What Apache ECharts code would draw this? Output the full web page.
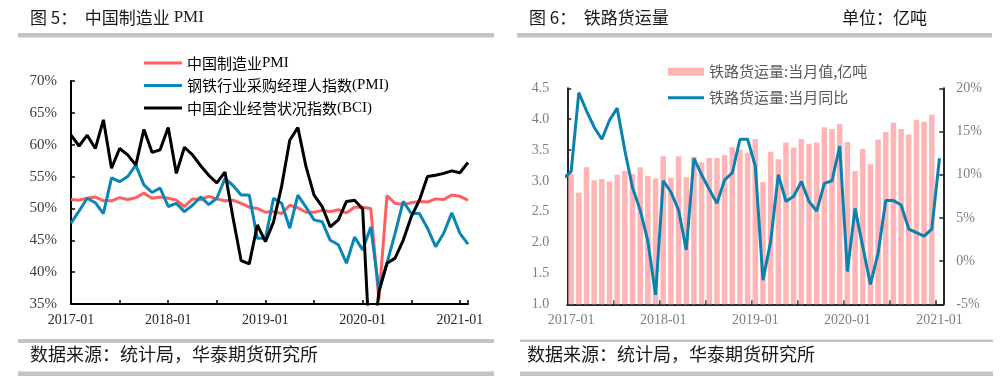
<!DOCTYPE html>
<html>
<head>
<meta charset="utf-8">
<script src="https://cdn.jsdelivr.net/npm/echarts@6/dist/echarts.min.js"></script>
<style>
html,body{margin:0;padding:0;background:#fff;}
#c{width:1008px;height:385px;}
</style>
</head>
<body>
<div id="c"></div>
<script>
// ---------- Left chart: monthly series, month-end points 2016-12 .. 2021-01 ----------
const pmiTickLabels = ['2017-01', '2018-01', '2019-01', '2020-01', '2021-01'];
const seriesNamesLeft = ['中国制造业PMI', '钢铁行业采购经理人指数(PMI)', '中国企业经营状况指数(BCI)'];
const pmiMfg = [51.4,
  51.3, 51.6, 51.8, 51.2, 51.2, 51.7, 51.4, 51.7, 52.4, 51.6, 51.8, 51.6,
  51.3, 50.3, 51.5, 51.4, 51.9, 51.5, 51.2, 51.3, 50.8, 50.2, 50.0, 49.4,
  49.5, 49.2, 50.5, 50.1, 49.4, 49.4, 49.7, 49.5, 49.8, 49.3, 50.2, 50.2,
  50.0, 35.7, 52.0, 50.8, 50.6, 50.9, 51.1, 51.0, 51.5, 51.4, 52.1, 51.9,
  51.3];
const pmiSteel = [47.7,
  49.6, 51.6, 50.9, 49.2, 54.8, 54.2, 55.0, 56.8, 53.7, 52.5, 53.2, 50.3,
  50.8, 49.5, 50.5, 51.8, 50.6, 51.6, 54.7, 53.6, 52.1, 52.1, 45.3, 45.3,
  51.6, 50.8, 46.9, 52.1, 50.2, 48.2, 47.9, 45.0, 44.3, 41.4, 45.5, 43.5,
  47.1, 37.2, 41.4, 46.1, 51.1, 49.2, 49.2, 46.9, 44.0, 46.1, 49.3, 46.1,
  44.4];
const bci = [61.5,
  59.8, 61.5, 59.4, 63.9, 56.3, 59.4, 58.4, 56.8, 62.4, 58.8, 59.2, 62.7,
  55.5, 59.6, 58.4, 56.7, 55.2, 54.0, 55.7, 48.5, 41.8, 41.3, 47.4, 44.8,
  47.9, 53.5, 60.7, 62.7, 56.6, 52.1, 50.3, 47.1, 48.2, 51.1, 51.3, 49.9,
  25.0, 36.9, 41.4, 42.2, 45.0, 48.7, 51.3, 55.0, 55.2, 55.5, 55.9, 55.6,
  57.2];

// ---------- Right chart: rail freight ----------
const railMonths = [
  '2017-01','2017-02','2017-03','2017-04','2017-05','2017-06','2017-07','2017-08','2017-09','2017-10','2017-11','2017-12',
  '2018-01','2018-02','2018-03','2018-04','2018-05','2018-06','2018-07','2018-08','2018-09','2018-10','2018-11','2018-12',
  '2019-01','2019-02','2019-03','2019-04','2019-05','2019-06','2019-07','2019-08','2019-09','2019-10','2019-11','2019-12',
  '2020-01','2020-02','2020-03','2020-04','2020-05','2020-06','2020-07','2020-08','2020-09','2020-10','2020-11','2020-12',
  '2021-01'];
const seriesNamesRight = ['铁路货运量:当月值,亿吨', '铁路货运量:当月同比'];
const railVolume = [
  3.11, 2.81, 3.22, 3.01, 3.03, 2.99, 3.10, 3.16, 3.11, 3.22, 3.08, 3.04,
  3.40, 3.05, 3.40, 3.06, 3.39, 3.30, 3.37, 3.37, 3.42, 3.55, 3.51, 3.46,
  3.68, 2.98, 3.47, 3.35, 3.62, 3.54, 3.68, 3.60, 3.62, 3.87, 3.84, 3.92,
  3.63, 3.16, 3.52, 3.27, 3.67, 3.79, 3.94, 3.84, 3.75, 3.99, 3.96, 4.07];
const railYoyPrev = 9.6; // 2016-12, only its clipped segment is visible
const railYoy = [
  10.35, 19.5, 17.4, 15.5, 14.1, 16.3, 17.7, 12.8, 8.5, 5.9, 2.3, -3.9,
  9.3, 8.0, 5.9, 1.3, 11.9, 10.0, 8.3, 6.7, 9.4, 10.2, 14.1, 14.1,
  11.0, -2.2, 2.25, 10.0, 6.9, 7.5, 9.2, 6.9, 5.8, 9.0, 9.3, 13.3,
  -1.2, 6.1, 1.7, -2.7, 0.9, 7.0, 7.0, 6.5, 3.7, 3.3, 2.9, 3.7,
  11.9];

// ---------- helpers ----------
const SERIF = 'Liberation Serif';
const CJK = 'Noto Sans CJK SC';
function richName(name) { return name.replace(/([A-Za-z()]+)/g, '{en|$1}'); }

const leftColors = ['#FF5F5F', '#0A86B4', '#000000'];
const leftData = [pmiMfg, pmiSteel, bci];

const chart = echarts.init(document.getElementById('c'), null, {renderer: 'canvas'});

const option = {
  animation: false,
  backgroundColor: '#ffffff',
  grid: [
    {left: 71, top: 81, width: 397, height: 223, containLabel: false},
    {left: 567.3, top: 88.3, width: 376, height: 216, containLabel: false}
  ],
  xAxis: [
    {
      type: 'value', gridIndex: 0, min: 0, max: 49, interval: 6,
      axisLine: {onZero: false, lineStyle: {color: '#000', width: 2}},
      axisTick: {show: true, inside: true, length: 4, lineStyle: {color: '#000', width: 1.5}},
      splitLine: {show: false},
      axisLabel: {
        margin: 9, fontFamily: SERIF, fontSize: 14, color: '#262626',
        formatter: v => (v % 12 === 0 ? pmiTickLabels[v / 12] : '')
      }
    },
    {
      type: 'category', gridIndex: 1, data: railMonths, boundaryGap: true,
      axisLine: {onZero: false, lineStyle: {color: '#262626', width: 2}},
      axisTick: {show: true, inside: true, length: 4, interval: 5, alignWithLabel: false, lineStyle: {color: '#262626', width: 1.5}},
      axisLabel: {interval: 11, margin: 9, fontFamily: SERIF, fontSize: 14, color: '#7F7F7F'},
      splitLine: {show: false}
    },
    {
      type: 'value', gridIndex: 1, min: 0, max: 49, show: false,
      axisLine: {show: false, onZero: false}, axisTick: {show: false}, axisLabel: {show: false}, splitLine: {show: false}
    }
  ],
  yAxis: [
    {
      type: 'value', gridIndex: 0, min: 35, max: 70, interval: 5,
      axisLine: {show: true, onZero: false, lineStyle: {color: '#000', width: 2}},
      axisTick: {show: true, inside: true, length: 4, lineStyle: {color: '#000', width: 1.5}},
      splitLine: {show: false},
      axisLabel: {margin: 14, fontFamily: SERIF, fontSize: 15, color: '#3a3a46', formatter: '{value}%'}
    },
    {
      type: 'value', gridIndex: 1, min: 1, max: 4.5, interval: 0.5, position: 'left',
      axisLine: {show: true, onZero: false, lineStyle: {color: '#262626', width: 2}},
      axisTick: {show: true, inside: true, length: 4, lineStyle: {color: '#262626', width: 1.5}},
      splitLine: {show: false},
      axisLabel: {margin: 18, fontFamily: SERIF, fontSize: 14, color: '#7F7F7F', formatter: v => v.toFixed(1)}
    },
    {
      type: 'value', gridIndex: 1, min: -5, max: 20, interval: 5, position: 'right',
      axisLine: {show: true, onZero: false, lineStyle: {color: '#262626', width: 2}},
      axisTick: {show: true, inside: true, length: 4, lineStyle: {color: '#262626', width: 1.5}},
      splitLine: {show: false},
      axisLabel: {margin: 13, fontFamily: SERIF, fontSize: 14, color: '#7F7F7F', formatter: '{value}%'}
    }
  ],
  legend: [
    {
      data: seriesNamesLeft, orient: 'vertical', left: 139, top: 49,
      icon: 'rect', itemWidth: 38, itemHeight: 3, itemGap: 4.5,
      formatter: richName,
      textStyle: {fontFamily: CJK, fontSize: 15, color: '#000', lineHeight: 18,
        rich: {en: {fontFamily: SERIF, fontSize: 15, color: '#000', lineHeight: 18}}}
    },
    {
      data: [seriesNamesRight[0]], orient: 'vertical', left: 663, top: 57.7,
      icon: 'rect', itemWidth: 36, itemHeight: 8,
      textStyle: {fontFamily: CJK, fontSize: 15, color: '#595959', lineHeight: 18}
    },
    {
      data: [seriesNamesRight[1]], orient: 'vertical', left: 663, top: 83.7,
      icon: 'rect', itemWidth: 36, itemHeight: 3,
      textStyle: {fontFamily: CJK, fontSize: 15, color: '#595959', lineHeight: 18}
    }
  ],
  series: [
    ...leftData.map((arr, s) => ({
      name: seriesNamesLeft[s], type: 'line', xAxisIndex: 0, yAxisIndex: 0,
      data: arr.map((v, i) => [i, v]),
      showSymbol: false, symbol: 'none', clip: true,
      color: leftColors[s],
      itemStyle: {color: leftColors[s]},
      lineStyle: {color: leftColors[s], width: 3},
      z: 2 + s
    })),
    {
      name: seriesNamesRight[0], type: 'bar', xAxisIndex: 1, yAxisIndex: 1,
      data: railVolume, barCategoryGap: '28%',
      itemStyle: {color: '#FFB5B5'}, color: '#FFB5B5'
    },
    {
      name: seriesNamesRight[1], type: 'line', xAxisIndex: 2, yAxisIndex: 2,
      data: [[-0.5, railYoyPrev]].concat(railYoy.map((v, k) => [k + 0.5, v])),
      showSymbol: false, symbol: 'none', clip: true,
      color: '#0A82B0', itemStyle: {color: '#0A82B0'},
      lineStyle: {color: '#0A82B0', width: 3}, z: 5
    }
  ],
  graphic: [
    // headers
    {type: 'text', left: 30, top: 9, style: {text: '图 5：  中国制造业 {en|PMI}', font: '17px "Noto Sans CJK SC"', fill: '#1a1a1a',
      rich: {en: {fontFamily: SERIF, fontSize: 17, fill: '#1a1a1a'}}}},
    {type: 'rect', shape: {x: 18, y: 33, width: 476, height: 4.5}, style: {fill: '#C3C3C3'}},
    {type: 'text', left: 529, top: 9, style: {text: '图 6：  铁路货运量', font: '17px "Noto Sans CJK SC"', fill: '#1a1a1a'}},
    {type: 'text', left: 842, top: 9, style: {text: '单位：亿吨', font: '17px "Noto Sans CJK SC"', fill: '#1a1a1a'}},
    {type: 'rect', shape: {x: 517, y: 33, width: 475, height: 4.5}, style: {fill: '#C3C3C3'}},
    // footers
    {type: 'rect', shape: {x: 18, y: 339, width: 476, height: 4}, style: {fill: '#C3C3C3'}},
    {type: 'rect', shape: {x: 520, y: 339.5, width: 473, height: 2.5}, style: {fill: '#C3C3C3'}},
    {type: 'text', left: 30, top: 345, style: {text: '数据来源：统计局，华泰期货研究所', font: '18px "Noto Sans CJK SC"', fill: '#1a1a1a'}},
    {type: 'text', left: 527, top: 345, style: {text: '数据来源：统计局，华泰期货研究所', font: '18px "Noto Sans CJK SC"', fill: '#1a1a1a'}},
    {type: 'rect', shape: {x: 18, y: 371.5, width: 476, height: 4.5}, style: {fill: '#C3C3C3'}},
    {type: 'rect', shape: {x: 520, y: 371.5, width: 473, height: 4.5}, style: {fill: '#C3C3C3'}}
  ]
};
chart.setOption(option);
</script>
</body>
</html>
